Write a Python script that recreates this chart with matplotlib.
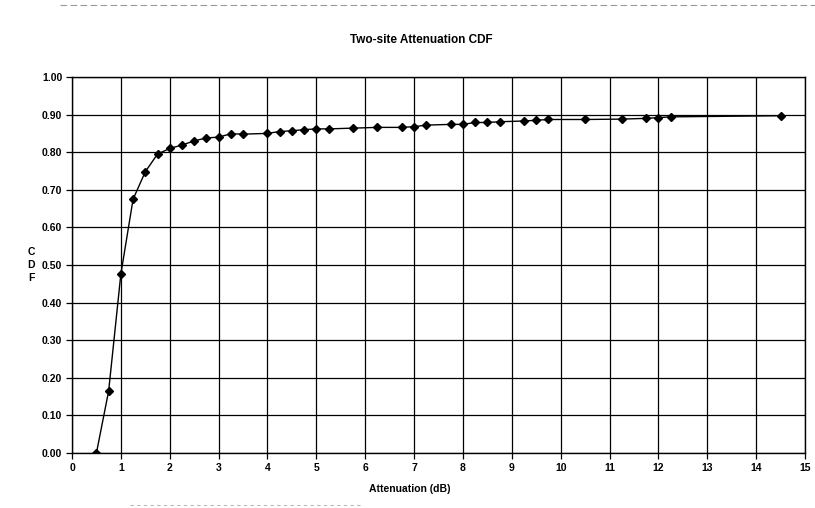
from matplotlib import pyplot as plt
from matplotlib.ticker import FormatStrFormatter, MultipleLocator

plt.rcParams['font.family'] = ['Liberation Sans', 'DejaVu Sans']
plt.rcParams['font.weight'] = 'bold'

# attenuation (dB) and cumulative probability
attenuation = [0.5, 0.75, 1.0, 1.25, 1.5, 1.75, 2.0, 2.25, 2.5, 2.75, 3.0, 3.25, 3.5,
               4.0, 4.25, 4.5, 4.75, 5.0, 5.25, 5.75, 6.25, 6.75, 7.0, 7.25, 7.75,
               8.0, 8.25, 8.5, 8.75, 9.25, 9.5, 9.75, 10.5, 11.25, 11.75, 12.0, 12.25,
               14.5]
cdf = [0.0, 0.165, 0.476, 0.675, 0.748, 0.795, 0.810, 0.819, 0.830, 0.838, 0.840,
       0.849, 0.848, 0.850, 0.855, 0.857, 0.860, 0.862, 0.862, 0.864, 0.866, 0.866,
       0.868, 0.872, 0.874, 0.874, 0.879, 0.879, 0.881, 0.883, 0.885, 0.887, 0.887,
       0.888, 0.890, 0.892, 0.894, 0.897]

fig = plt.figure(figsize=(8.15, 5.08), dpi=100)
ax = fig.add_axes([72 / 815, 1 - 453 / 508, 733 / 815, 376 / 508])

ax.plot(attenuation, cdf, '-', color='black', linewidth=1.0, marker='D',
        markersize=4, markerfacecolor='black', markeredgecolor='black', zorder=3)

ax.set_xlim(0, 15)
ax.set_ylim(0, 1.0)
ax.xaxis.set_major_locator(MultipleLocator(1))
ax.yaxis.set_major_locator(MultipleLocator(0.1))
ax.yaxis.set_major_formatter(FormatStrFormatter('%.2f'))
ax.grid(True, color='black', linewidth=0.9)
ax.set_axisbelow(True)
for side in ax.spines.values():
    side.set_linewidth(1.0)
ax.tick_params(axis='both', direction='out', length=4, width=0.9, labelsize=7.5, pad=3)
for lab in ax.get_xticklabels() + ax.get_yticklabels():
    lab.set_fontweight('bold')

fig.text(421 / 815, 1 - 40 / 508, 'Two-site Attenuation CDF', ha='center', va='center',
         fontsize=8.5, fontweight='bold')
fig.text(410 / 815, 1 - 489 / 508, 'Attenuation (dB)', ha='center', va='center',
         fontsize=7.5, fontweight='bold')
fig.text(31 / 815, 1 - 265 / 508, 'C\nD\nF', ha='center', va='center',
         fontsize=7.5, fontweight='bold', linespacing=1.35)

# faint copier streaks along the page edges
fig.add_artist(plt.Line2D([60 / 815, 1.0], [1 - 5 / 508] * 2, color='#555555',
                          linewidth=0.8, linestyle=(0, (6, 3)), alpha=0.6))
fig.add_artist(plt.Line2D([130 / 815, 360 / 815], [1 - 505 / 508] * 2, color='#777777',
                          linewidth=0.8, linestyle=(0, (3, 3)), alpha=0.5))

fig.savefig('out.png', dpi=100, facecolor='white')
